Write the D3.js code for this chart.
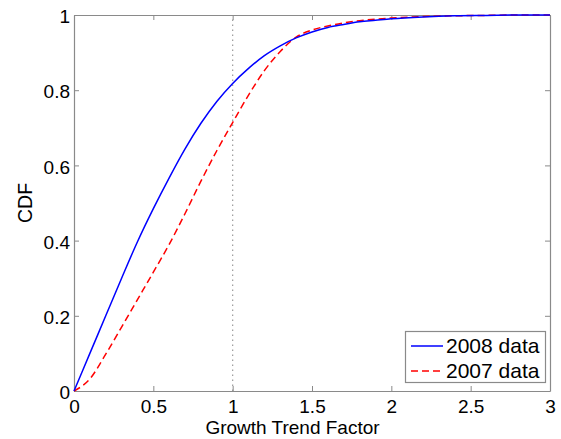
<!DOCTYPE html>
<html><head><meta charset="utf-8">
<script src="https://cdn.jsdelivr.net/npm/d3@7"></script>
<style>html,body{margin:0;padding:0;background:#fff;}svg{display:block;font-family:"Liberation Sans",Arial,Helvetica,sans-serif;}</style>
</head><body>
<svg id="c" width="561" height="439"></svg>
<script>
const xTicks = [0, 0.5, 1, 1.5, 2, 2.5, 3];
const xTickLabels = ["0", "0.5", "1", "1.5", "2", "2.5", "3"];
const yTicks = [0, 0.2, 0.4, 0.6, 0.8, 1];
const yTickLabels = ["0", "0.2", "0.4", "0.6", "0.8", "1"];
const seriesNames = ["2008 data", "2007 data"];
const xs2008 = [0, 0.1, 0.2, 0.3, 0.4, 0.5, 0.6, 0.7, 0.8, 0.9, 1.0, 1.1, 1.2, 1.3, 1.4, 1.5, 1.6, 1.7, 1.8, 1.9, 2.0, 2.2, 2.4, 2.6, 2.8, 3.0];
const cdf2008 = [0, 0.1, 0.2, 0.3, 0.397, 0.485, 0.567, 0.644, 0.712, 0.77, 0.818, 0.858, 0.892, 0.918, 0.939, 0.955, 0.967, 0.975, 0.982, 0.986, 0.99, 0.995, 0.998, 0.999, 1, 1];
const xs2007 = [0, 0.1, 0.2, 0.3, 0.4, 0.5, 0.6, 0.7, 0.8, 0.9, 1.0, 1.1, 1.2, 1.3, 1.4, 1.5, 1.6, 1.7, 1.8, 1.9, 2.0, 2.2, 2.4, 2.6, 2.8, 3.0];
const cdf2007 = [0, 0.032, 0.098, 0.17, 0.243, 0.316, 0.39, 0.472, 0.558, 0.639, 0.714, 0.787, 0.852, 0.903, 0.941, 0.96, 0.971, 0.979, 0.985, 0.989, 0.992, 0.996, 0.998, 0.999, 1, 1];

const svg = d3.select("#c");
const L = 74, R = 550, T = 15, B = 391;
const x = d3.scaleLinear().domain([0, 3]).range([L, R]);
const y = d3.scaleLinear().domain([0, 1]).range([B, T]);
const axisCol = "#8a8a8a";

// vertical dotted line at x=1
svg.append("line").attr("x1", x(1)).attr("x2", x(1)).attr("y1", y(0)).attr("y2", y(1))
  .attr("stroke", "#9a9a9a").attr("stroke-width", 1.2).attr("stroke-dasharray", "1.5,3.5");

// axes with inward ticks on all sides
function styleAxis(g){
  g.select(".domain").attr("stroke", axisCol).attr("stroke-width", 1.2);
  g.selectAll(".tick line").attr("stroke", axisCol).attr("stroke-width", 1);
  g.selectAll(".tick text").attr("fill", "#000").style("font-size", "19px");
}
const xb = svg.append("g").attr("transform", `translate(0,${B})`)
  .call(d3.axisBottom(x).tickValues(xTicks).tickFormat((d,i)=>xTickLabels[i]).tickSizeInner(-5).tickSizeOuter(0));
styleAxis(xb);
xb.selectAll(".tick text").attr("dy", null).attr("y", 21.5);
const xt = svg.append("g").attr("transform", `translate(0,${T})`)
  .call(d3.axisTop(x).tickValues(xTicks).tickFormat("").tickSizeInner(-5).tickSizeOuter(0));
styleAxis(xt);
const yl = svg.append("g").attr("transform", `translate(${L},0)`)
  .call(d3.axisLeft(y).tickValues(yTicks).tickFormat((d,i)=>yTickLabels[i]).tickSizeInner(-5).tickSizeOuter(0));
styleAxis(yl);
yl.selectAll(".tick text").attr("x", -4).attr("dy", "0.4em");
const yr = svg.append("g").attr("transform", `translate(${R},0)`)
  .call(d3.axisRight(y).tickValues(yTicks).tickFormat("").tickSizeInner(-5).tickSizeOuter(0));
styleAxis(yr);

// curves
const line = d3.line().x(d=>x(d[0])).y(d=>y(d[1])).curve(d3.curveMonotoneX);
svg.append("path").datum(xs2007.map((v,i)=>[v, cdf2007[i]])).attr("d", line)
  .attr("fill", "none").attr("stroke", "#ff0000").attr("stroke-width", 1.5).attr("stroke-dasharray", "7,4");
svg.append("path").datum(xs2008.map((v,i)=>[v, cdf2008[i]])).attr("d", line)
  .attr("fill", "none").attr("stroke", "#0000ff").attr("stroke-width", 1.5);

// axis labels
svg.append("text").attr("x", 292.5).attr("y", 433.5).attr("text-anchor", "middle")
  .style("font-size", "19px").text("Growth Trend Factor");
svg.append("text").attr("transform", `translate(31.5,${(T+B)/2}) rotate(-90)`).attr("text-anchor", "middle")
  .style("font-size", "19.5px").text("CDF");

// legend
const lg = svg.append("g");
lg.append("rect").attr("x", 405.5).attr("y", 331.5).attr("width", 140).attr("height", 51)
  .attr("fill", "#fff").attr("stroke", axisCol).attr("stroke-width", 1.2);
const legCols = ["#0000ff", "#ff0000"];
const legDash = [null, "7,4"];
seriesNames.forEach((n, i) => {
  const yy = 346 + i * 25;
  lg.append("line").attr("x1", 411).attr("x2", 443).attr("y1", yy).attr("y2", yy)
    .attr("stroke", legCols[i]).attr("stroke-width", 1.5).attr("stroke-dasharray", legDash[i]);
  lg.append("text").attr("x", 446).attr("y", yy + 7).style("font-size", "21px").text(n);
});
</script>
</body></html>
